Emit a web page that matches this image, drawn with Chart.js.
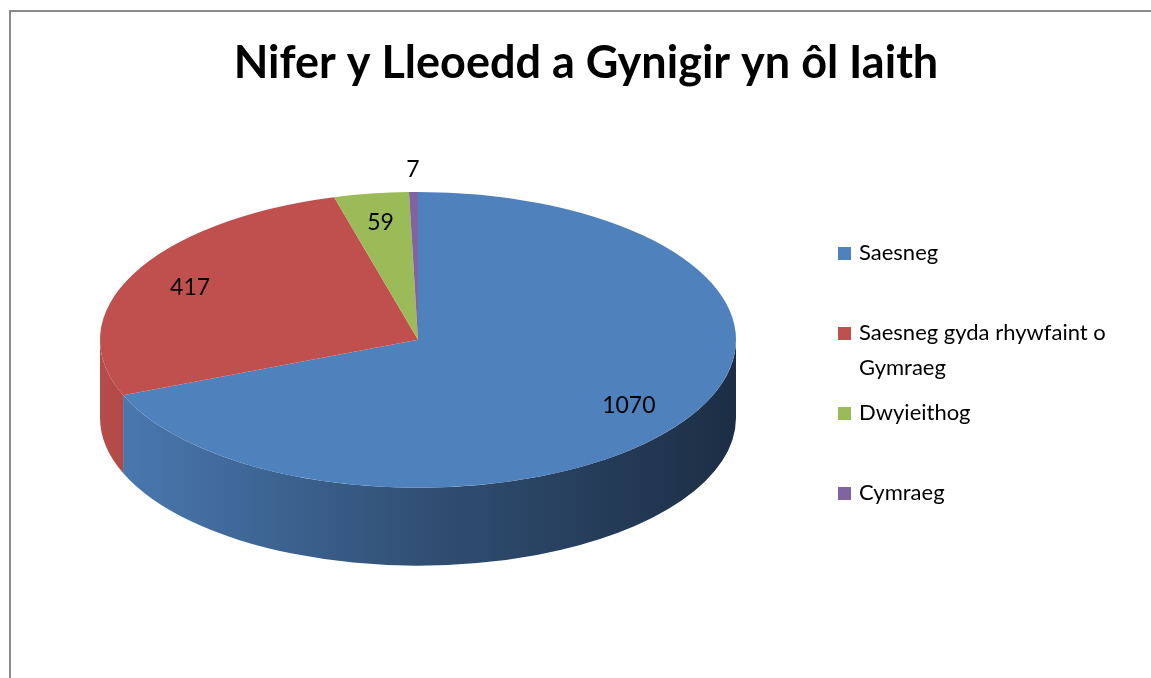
<!DOCTYPE html>
<html>
<head>
<meta charset="utf-8">
<title>Nifer y Lleoedd a Gynigir yn ôl Iaith</title>
<script src="https://cdn.jsdelivr.net/npm/chart.js@4.4.1/dist/chart.umd.min.js"></script>
<style>
    html, body { margin: 0; padding: 0; background: #fff; }
    #wrap { position: relative; width: 1151px; height: 678px; overflow: hidden; }
    #frame { position: absolute; left: 9px; top: 10px; width: 1200px; height: 700px;
             border-left: 2px solid #8a8a8a; border-top: 2px solid #8a8a8a; }
    #chart { position: absolute; left: 0; top: 0; }
</style>
</head>
<body>
<div id="wrap">
    <div id="frame"></div>
    <canvas id="chart" width="1151" height="678"></canvas>
</div>
<script>
// Nifer y Lleoedd a Gynigir yn ôl Iaith - pie drawn flat by Chart.js, then tilted

var chartTitle = 'Nifer y Lleoedd a Gynigir yn ôl Iaith';
var languages = ['Saesneg', 'Saesneg gyda rhywfaint o Gymraeg', 'Dwyieithog', 'Cymraeg'];
var places = [1070, 417, 59, 7];
var sliceColours = ['#4f81bd', '#c0504d', '#9bbb59', '#8064a2'];

var FONT = 'Lato, "Open Sans", sans-serif';

// darken a hex colour by a factor (1 = unchanged)
function shade(hex, f) {
    var n = parseInt(hex.slice(1), 16);
    var r = Math.round(((n >> 16) & 255) * f);
    var g = Math.round(((n >> 8) & 255) * f);
    var b = Math.round((n & 255) * f);
    return 'rgb(' + r + ',' + g + ',' + b + ')';
}

// ellipse that the flat pie gets squashed into, taken from the chart area
function tiltGeometry(chart, opts) {
    var area = chart.chartArea;
    var rx = area.width / 2;
    var ry = rx * opts.tilt;
    return {
        cx: (area.left + area.right) / 2,
        cy: area.top + ry,
        rx: rx,
        ry: ry,
        depth: rx * opts.depth
    };
}

// split a legend label into lines that fit maxWidth
function wrapWords(ctx, text, maxWidth) {
    var words = text.split(' ');
    var lines = [];
    var line = '';
    words.forEach(function (w) {
        var test = line ? line + ' ' + w : w;
        if (line && ctx.measureText(test).width > maxWidth) {
            lines.push(line);
            line = w;
        } else {
            line = test;
        }
    });
    if (line) lines.push(line);
    return lines;
}

var tiltPlugin = {
    id: 'tilt',
    beforeDatasetsDraw: function (chart, args, opts) {
        var ctx = chart.ctx;
        var g = tiltGeometry(chart, opts);
        var arcs = chart.getDatasetMeta(0).data;

        // side wall: only the front half (canvas angles 0..PI) is visible
        arcs.forEach(function (arc, i) {
            var s = Math.max(arc.startAngle, 0);
            var e = Math.min(arc.endAngle, Math.PI);
            if (e <= s) return;
            var base = sliceColours[i];
            var grad = ctx.createLinearGradient(g.cx - g.rx, 0, g.cx + g.rx, 0);
            grad.addColorStop(0, shade(base, 0.95));
            grad.addColorStop(0.5, shade(base, 0.62));
            grad.addColorStop(1, shade(base, 0.36));
            ctx.beginPath();
            ctx.ellipse(g.cx, g.cy, g.rx, g.ry, 0, s, e, false);
            ctx.ellipse(g.cx, g.cy + g.depth, g.rx, g.ry, 0, e, s, true);
            ctx.closePath();
            ctx.fillStyle = grad;
            ctx.fill();
        });

        // squash the library's own arcs onto the top face
        var a = arcs[0];
        ctx.save();
        ctx.translate(g.cx, g.cy);
        ctx.scale(g.rx / a.outerRadius, g.ry / a.outerRadius);
        ctx.translate(-a.x, -a.y);
    },
    afterDatasetsDraw: function (chart, args, opts) {
        var ctx = chart.ctx;
        ctx.restore();

        var g = tiltGeometry(chart, opts);
        var total = places.reduce(function (s, v) { return s + v; }, 0);
        ctx.save();
        ctx.font = '23px ' + FONT;
        ctx.fillStyle = '#000';
        ctx.textAlign = 'center';
        ctx.textBaseline = 'middle';
        chart.getDatasetMeta(0).data.forEach(function (arc, i) {
            var mid = (arc.startAngle + arc.endAngle) / 2;
            // tiny slices get their label outside the pie
            var f = places[i] / total < 0.01 ? opts.outsideLabel : opts.insideLabel;
            ctx.fillText(String(places[i]),
                g.cx + Math.cos(mid) * g.rx * f,
                g.cy + Math.sin(mid) * g.ry * f);
        });
        ctx.restore();
    }
};

// legend as a layout box on the right so the title stays centred over the whole chart
var sideLegendPlugin = {
    id: 'sideLegend',
    beforeInit: function (chart) {
        var box = {
            position: 'right',
            weight: 10,
            fullSize: false,
            options: { display: true },
            width: 0, height: 0, left: 0, top: 0, right: 0, bottom: 0,
            isHorizontal: function () { return false; },
            update: function (maxWidth, maxHeight) {
                this.width = 336;
                this.height = maxHeight;
            },
            draw: function () {
                var ctx = chart.ctx;
                var x = this.left + 102;
                var top = this.top;
                ctx.save();
                ctx.font = '22px ' + FONT;
                ctx.textBaseline = 'middle';
                ctx.textAlign = 'left';
                languages.forEach(function (name, i) {
                    var y = top + 61 + i * 80;
                    ctx.fillStyle = sliceColours[i];
                    ctx.fillRect(x, y - 6, 13, 13);
                    ctx.fillStyle = '#000';
                    wrapWords(ctx, name, 280).forEach(function (line, k) {
                        ctx.fillText(line, x + 21, y + k * 35);
                    });
                });
                ctx.restore();
            }
        };
        Chart.layouts.addBox(chart, box);
    }
};

new Chart(document.getElementById('chart'), {
    type: 'pie',
    data: {
        labels: languages,
        datasets: [{
            data: places,
            backgroundColor: sliceColours,
            borderWidth: 0
        }]
    },
    options: {
        responsive: false,
        animation: false,
        layout: { padding: { left: 100, right: 79, top: 0, bottom: 20 } },
        plugins: {
            legend: { display: false },
            tooltip: { enabled: false },
            title: {
                display: true,
                text: chartTitle,
                color: '#000',
                font: { family: FONT, size: 45, weight: 'bold' },
                padding: { top: 36, bottom: 102 }
            },
            tilt: { tilt: 0.465, depth: 0.245, insideLabel: 0.8, outsideLabel: 1.15 }
        }
    },
    plugins: [sideLegendPlugin, tiltPlugin]
});
</script>
</body>
</html>
